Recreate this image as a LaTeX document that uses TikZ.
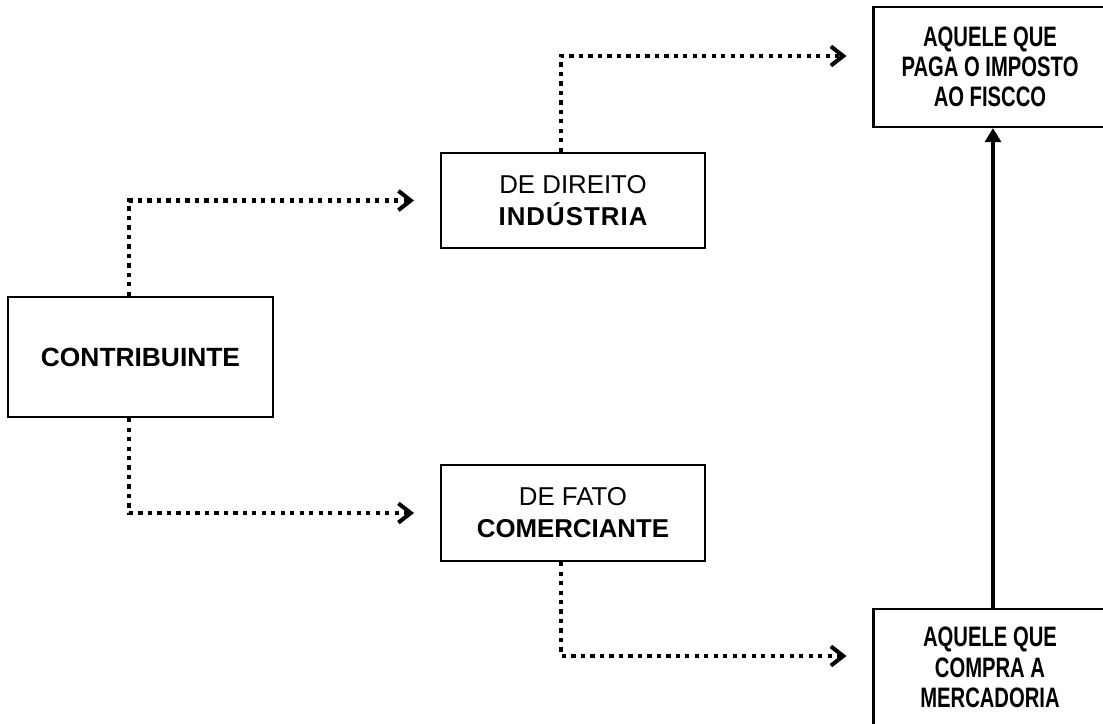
\documentclass[tikz,border=0pt]{standalone}
\usepackage{fontspec}
\setmainfont{Liberation Sans}
\newfontfamily\narrowsans[FakeStretch=0.72]{Liberation Sans}
\usetikzlibrary{arrows.meta}

\begin{document}
\begin{tikzpicture}[x=0.02cm,y=-0.02cm,semithick]
\tikzstyle{box}=[draw=black,line width=1.2pt,rectangle,align=center,inner sep=0pt]
\tikzstyle{wide}=[box,font=\fontsize{14.7}{18.2}\selectfont]
\tikzstyle{narrow}=[box,minimum width=4.66cm,font=\narrowsans\bfseries\fontsize{16}{17.2}\selectfont]
\tikzstyle{dots}=[line width=2.4pt,dash pattern=on 2.4pt off 3pt,-{Straight Barb[length=7pt,width=11pt,line width=2.3pt]},shorten >=0.52cm]
\tikzstyle{solidarrow}=[line width=2.3pt,-{Triangle[length=8pt,width=9pt]}]
\useasboundingbox (0,0) rectangle (1103,724);
\node[wide,minimum width=5.3cm,minimum height=2.4cm] (contrib) at (140.5,357) {\bfseries\fontsize{15}{18}\selectfont CONTRIBUINTE};
\node[wide,minimum width=5.28cm,minimum height=1.9cm] (direito) at (573,200.5) {DE DIREITO\\{\bfseries\addfontfeature{LetterSpace=4}INDÚSTRIA}};
\node[wide,minimum width=5.28cm,minimum height=1.92cm] (fato) at (573,513) {DE FATO\\{\bfseries COMERCIANTE}};
\node[narrow,minimum height=2.4cm] (fisco) at (990,67) {AQUELE QUE\\PAGA O IMPOSTO\\AO FISCCO};
\node[narrow,minimum height=2.34cm] (compra) at (990,667.5) {AQUELE QUE\\COMPRA A\\MERCADORIA};
\draw[dots] ([xshift=-0.23cm]contrib.north) |- (direito.west);
\draw[dots] ([xshift=-0.23cm]contrib.south) |- (fato.west);
\draw[dots] ([xshift=-0.24cm]direito.north) |- ([yshift=0.22cm]fisco.west);
\draw[dots] ([xshift=-0.24cm]fato.south) |- ([yshift=0.23cm]compra.west);
\draw[solidarrow] ([xshift=0.06cm]compra.north) -- ([xshift=0.06cm]fisco.south);
\end{tikzpicture}
\end{document}
